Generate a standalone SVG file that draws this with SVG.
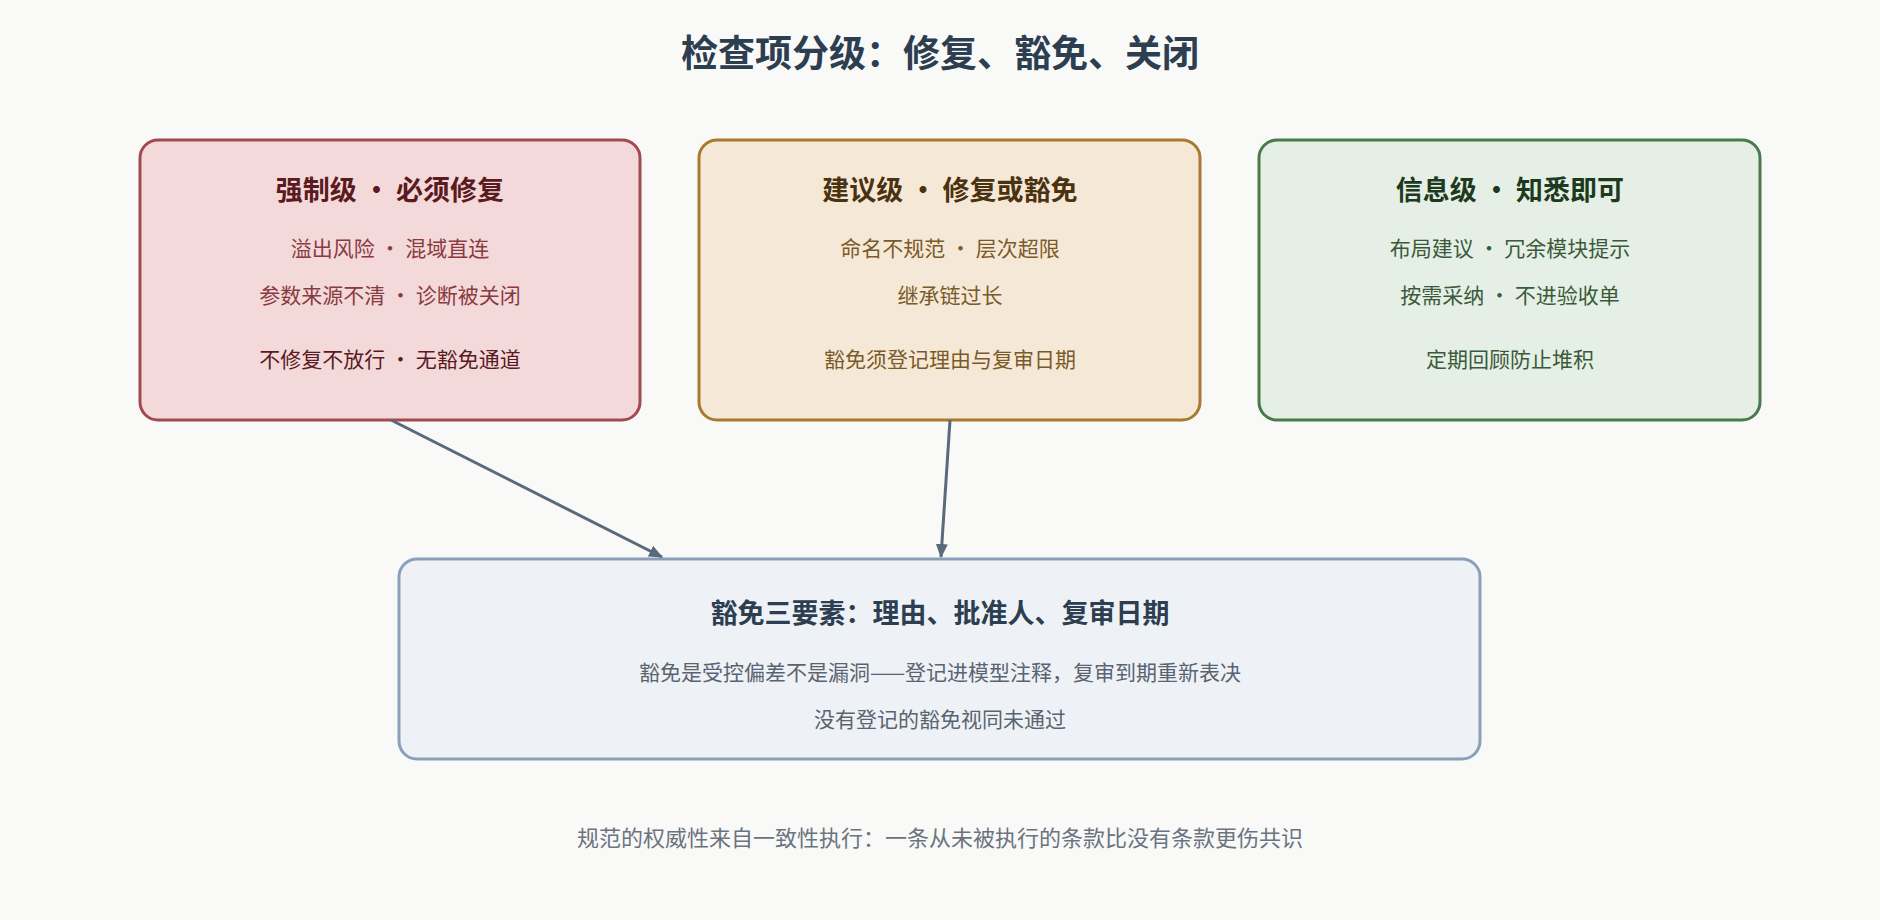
<svg xmlns="http://www.w3.org/2000/svg" width="1880" height="920" viewBox="0 0 1880 920">
<style>
text{font-family:"Noto Sans CJK SC","Noto Sans",sans-serif;text-anchor:middle}
.t{font-size:27px;font-weight:bold}
.b{font-size:21px}
.box{stroke-width:3}
</style>
<defs><marker id="ah" markerWidth="14" markerHeight="12" refX="13" refY="6" orient="auto" markerUnits="userSpaceOnUse"><path d="M0,0 L14,6 L0,12 Z" fill="#5a6a7a"/></marker></defs>
<rect width="1880" height="920" fill="#f9f9f8"/>
<text x="940" y="67" font-size="37" font-weight="bold" fill="#2c3e50">检查项分级：修复、豁免、关闭</text>
<g id="n1"><rect class="box" x="140" y="140" width="500" height="280" rx="18" fill="#f4d9db" stroke="#a24a50"/>
<text class="t" x="390" y="200" fill="#5a1a1e">强制级 • 必须修复</text>
<text class="b" x="390" y="256" fill="#8a3a40">溢出风险 · 混域直连</text>
<text class="b" x="390" y="303" fill="#8a3a40">参数来源不清 · 诊断被关闭</text>
<text class="b" x="390" y="367" fill="#5a1a1e">不修复不放行 · 无豁免通道</text></g>
<g id="n2"><rect class="box" x="699" y="140" width="501" height="280" rx="18" fill="#f6e8d6" stroke="#a87a30"/>
<text class="t" x="950" y="200" fill="#4a3210">建议级 • 修复或豁免</text>
<text class="b" x="950" y="256" fill="#7a5a2a">命名不规范 · 层次超限</text>
<text class="b" x="950" y="303" fill="#7a5a2a">继承链过长</text>
<text class="b" x="950" y="367" fill="#7a5a2a">豁免须登记理由与复审日期</text></g>
<g id="n3"><rect class="box" x="1259" y="140" width="501" height="280" rx="18" fill="#e5efe5" stroke="#4a7a4a"/>
<text class="t" x="1510" y="200" fill="#1e3a1e">信息级 • 知悉即可</text>
<text class="b" x="1510" y="256" fill="#3a5a3a">布局建议 · 冗余模块提示</text>
<text class="b" x="1510" y="303" fill="#3a5a3a">按需采纳 · 不进验收单</text>
<text class="b" x="1510" y="367" fill="#3a5a3a">定期回顾防止堆积</text></g>
<g id="n4"><rect class="box" x="399" y="559" width="1081" height="200" rx="18" fill="#eef2f7" stroke="#8aa0b8" stroke-width="2.5"/>
<text class="t" x="940" y="623" font-size="26" fill="#2c3e50">豁免三要素：理由、批准人、复审日期</text>
<text class="b" x="940" y="680" fill="#5a6470">豁免是受控偏差不是漏洞——登记进模型注释，复审到期重新表决</text>
<text class="b" x="940" y="727" fill="#5a6470">没有登记的豁免视同未通过</text></g>
<g id="connectors" stroke="#5a6a7a" stroke-width="3" fill="none">
<line x1="391" y1="420" x2="662" y2="557" marker-end="url(#ah)"/>
<line x1="950" y1="420" x2="941" y2="557" marker-end="url(#ah)"/>
</g>
<text x="940" y="846" font-size="22" fill="#6a7480">规范的权威性来自一致性执行：一条从未被执行的条款比没有条款更伤共识</text>
</svg>
